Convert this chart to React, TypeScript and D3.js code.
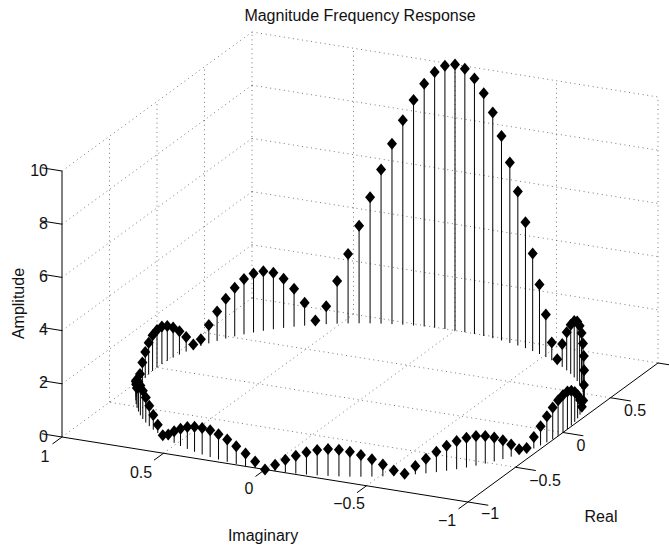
import React from "react";
import * as d3 from "d3";

const title = "Magnitude Frequency Response";
const realLabel = "Real";
const imagLabel = "Imaginary";
const ampLabel = "Amplitude";

const realTicks = [-1, -0.5, 0, 0.5, 1];
const imagTicks = [-1, -0.5, 0, 0.5, 1];
const ampTicks = [0, 2, 4, 6, 8, 10];

// Sample angle on the unit circle, in degrees (real = cos, imag = sin)
const angleDeg = [
  -177.1875, -174.375, -171.5625, -168.75, -165.9375, -163.125, -160.3125, -157.5,
  -154.6875, -151.875, -149.0625, -146.25, -143.4375, -140.625, -137.8125, -135,
  -132.1875, -129.375, -126.5625, -123.75, -120.9375, -118.125, -115.3125, -112.5,
  -109.6875, -106.875, -104.0625, -101.25, -98.4375, -95.625, -92.8125, -90,
  -87.1875, -84.375, -81.5625, -78.75, -75.9375, -73.125, -70.3125, -67.5,
  -64.6875, -61.875, -59.0625, -56.25, -53.4375, -50.625, -47.8125, -45,
  -42.1875, -39.375, -36.5625, -33.75, -30.9375, -28.125, -25.3125, -22.5,
  -19.6875, -16.875, -14.0625, -11.25, -8.4375, -5.625, -2.8125, 0,
  2.8125, 5.625, 8.4375, 11.25, 14.0625, 16.875, 19.6875, 22.5,
  25.3125, 28.125, 30.9375, 33.75, 36.5625, 39.375, 42.1875, 45,
  47.8125, 50.625, 53.4375, 56.25, 59.0625, 61.875, 64.6875, 67.5,
  70.3125, 73.125, 75.9375, 78.75, 81.5625, 84.375, 87.1875, 90,
  92.8125, 95.625, 98.4375, 101.25, 104.0625, 106.875, 109.6875, 112.5,
  115.3125, 118.125, 120.9375, 123.75, 126.5625, 129.375, 132.1875, 135,
  137.8125, 140.625, 143.4375, 146.25, 149.0625, 151.875, 154.6875, 157.5,
  160.3125, 163.125, 165.9375, 168.75, 171.5625, 174.375, 177.1875, 180,
];

const amplitude = [
  0.24, 0.47, 0.67, 0.84, 0.95, 1.01, 1.0, 0.94,
  0.82, 0.65, 0.44, 0.2, 0.05, 0.31, 0.55, 0.77,
  0.94, 1.06, 1.12, 1.11, 1.04, 0.9, 0.71, 0.46,
  0.18, 0.12, 0.43, 0.72, 0.98, 1.19, 1.34, 1.41,
  1.41, 1.31, 1.13, 0.88, 0.55, 0.16, 0.25, 0.69,
  1.11, 1.5, 1.83, 2.08, 2.22, 2.24, 2.12, 1.85,
  1.43, 0.86, 0.16, 0.67, 1.6, 2.61, 3.67, 4.74,
  5.79, 6.78, 7.69, 8.48, 9.13, 9.61, 9.9, 10,
  9.9, 9.61, 9.13, 8.48, 7.69, 6.78, 5.79, 4.74,
  3.67, 2.61, 1.6, 0.67, 0.16, 0.86, 1.43, 1.85,
  2.12, 2.24, 2.22, 2.08, 1.83, 1.5, 1.11, 0.69,
  0.25, 0.16, 0.55, 0.88, 1.13, 1.31, 1.41, 1.41,
  1.34, 1.19, 0.98, 0.72, 0.43, 0.12, 0.18, 0.46,
  0.71, 0.9, 1.04, 1.11, 1.12, 1.06, 0.94, 0.77,
  0.55, 0.31, 0.05, 0.2, 0.44, 0.65, 0.82, 0.94,
  1.0, 1.01, 0.95, 0.84, 0.67, 0.47, 0.24, 0,
];

// Oblique projection expressed as linear scales
const realToX = d3.scaleLinear().domain([-1, 1]).range([-95, 95]);
const realToY = d3.scaleLinear().domain([-1, 1]).range([69.5, -69.5]);
const imagToX = d3.scaleLinear().domain([-1, 1]).range([203, -203]);
const imagToY = d3.scaleLinear().domain([-1, 1]).range([32.5, -32.5]);
const ampToY = d3.scaleLinear().domain([0, 10]).range([0, -266]);
const originX = 360;
const originY = 400;

const project = (re: number, im: number, z: number): [number, number] => [
  originX + realToX(re) + imagToX(im),
  originY + realToY(re) + imagToY(im) + ampToY(z),
];

const line = d3.line();
const seg = (a: [number, number, number], b: [number, number, number]) =>
  line([project(a[0], a[1], a[2]), project(b[0], b[1], b[2])]) ?? "";

const FONT = "'Liberation Sans', Arial, Helvetica, sans-serif";
const fmt = (v: number) => String(v).replace("-", "\u2212");

const gridPaths: string[] = [];
const zMax = ampTicks[ampTicks.length - 1];
for (const z of ampTicks) {
  gridPaths.push(seg([-1, 1, z], [1, 1, z]));
  gridPaths.push(seg([1, 1, z], [1, -1, z]));
}
for (const r of realTicks.slice(1)) {
  gridPaths.push(seg([r, 1, 0], [r, 1, zMax]));
  if (r < 1) gridPaths.push(seg([r, -1, 0], [r, 1, 0]));
}
for (const i of imagTicks) {
  if (i < 1) gridPaths.push(seg([1, i, 0], [1, i, zMax]));
  if (i > -1 && i < 1) gridPaths.push(seg([-1, i, 0], [1, i, 0]));
}

const realLabelPos: Record<string, [number, number]> = {
  "-1": [490, 513], "-0.5": [545, 480], "0": [581, 445], "0.5": [635, 410],
};
const imagLabelPos: Record<string, [number, number]> = {
  "1": [45, 456], "0.5": [141, 472], "0": [249, 488], "-0.5": [349, 503], "-1": [447, 520],
};

const diamond = (x: number, y: number) =>
  `M${x},${y - 6}L${x + 5},${y}L${x},${y + 6}L${x - 5},${y}Z`;

const CAP = 5.6; // half cap height: baseline offset from a label's visual centre

export default function App() {
  const points = angleDeg.map((deg, k) => {
    const t = (deg * Math.PI) / 180;
    return { re: Math.cos(t), im: Math.sin(t), z: amplitude[k] };
  });
  const txt = { fontFamily: FONT, fontSize: 16, fill: "#111" };
  return (
    <svg
      width={669}
      height={546}
      viewBox="0 0 669 546"
      style={{ position: "absolute", left: 0, top: 0, background: "#fff" }}
    >
      <g fill="none" stroke="#555" strokeWidth={0.8} strokeDasharray="1 3.6">
        {gridPaths.map((d, k) => (
          <path key={k} d={d} />
        ))}
      </g>

      <g fill="none" stroke="#000" strokeWidth={1}>
        <path d={seg([-1, 1, 0], [-1, 1, zMax])} />
        <path d={seg([-1, 1, 0], [-1, -1, 0])} />
        <path d={seg([-1, -1, 0], [1, -1, 0])} />
        {ampTicks.map((z) => (
          <path key={`z${z}`} d={seg([-1, 1, z], [-1, 1.1, z])} />
        ))}
        {imagTicks.map((i) => (
          <path key={`i${i}`} d={seg([-1, i, 0], [-1.1, i, 0])} />
        ))}
        {realTicks.map((r) => (
          <path key={`r${r}`} d={seg([r, -1, 0], [r, -1.1, 0])} />
        ))}
      </g>

      <g fill="none" stroke="#000" strokeWidth={1}>
        {points.map((p, k) => (
          <path key={k} d={seg([p.re, p.im, 0], [p.re, p.im, p.z])} />
        ))}
      </g>
      <g fill="#000">
        {points.map((p, k) => {
          const [x, y] = project(p.re, p.im, p.z);
          return <path key={k} d={diamond(x, y)} />;
        })}
      </g>

      <g {...txt} textAnchor="end">
        {ampTicks.map((z) => {
          const [x, y] = project(-1, 1, z);
          return (
            <text key={z} x={x - 14} y={y - 1 + CAP}>
              {fmt(z)}
            </text>
          );
        })}
      </g>
      <g {...txt} textAnchor="middle">
        {realTicks.slice(0, 4).map((r) => {
          const [x, y] = realLabelPos[String(r)];
          return <text key={r} x={x} y={y + CAP}>{fmt(r)}</text>;
        })}
        {imagTicks.map((i) => {
          const [x, y] = imagLabelPos[String(i)];
          return <text key={i} x={x} y={y + CAP}>{fmt(i)}</text>;
        })}
        <text x={360} y={20.5}>{title}</text>
        <text x={263} y={541}>{imagLabel}</text>
        <text x={601} y={521.5}>{realLabel}</text>
        <text transform="translate(24,303.5) rotate(-90)">{ampLabel}</text>
      </g>
    </svg>
  );
}
